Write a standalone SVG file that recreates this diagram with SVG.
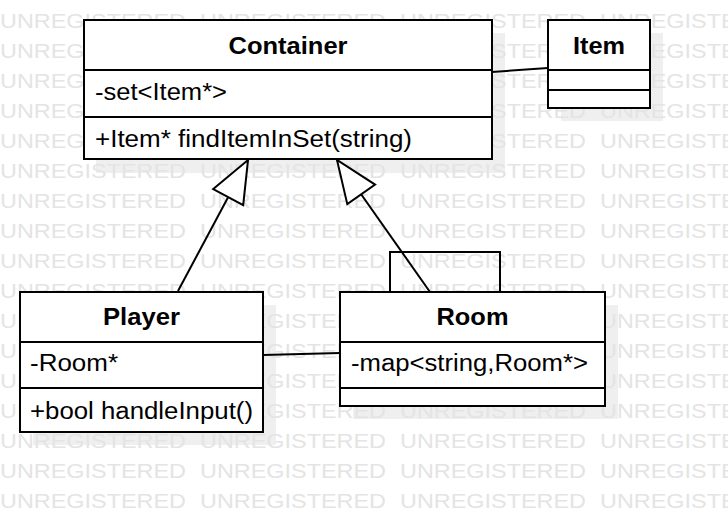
<svg xmlns="http://www.w3.org/2000/svg" width="728" height="512" viewBox="0 0 728 512">
  <style>
    .shadow { fill: #efefef; stroke: none; }
    .wm { font-family: "Liberation Sans", Arial, sans-serif; font-size: 21px; fill: #e4e4e4; }
    .box { fill: #ffffff; stroke: #000000; stroke-width: 2; }
    .div { stroke: #000000; stroke-width: 2; fill: none; }
    .title { font-family: "Liberation Sans", Arial, sans-serif; font-size: 23px; font-weight: bold; fill: #000000; text-anchor: middle; }
    .member { font-family: "Liberation Sans", Arial, sans-serif; font-size: 23px; fill: #000000; }
    .link { stroke: #000000; stroke-width: 2; fill: none; }
  </style>
  <defs>
    <marker id="generalization" markerUnits="userSpaceOnUse" viewBox="-2 -2 46 38" markerWidth="46" markerHeight="38" refX="42" refY="17" orient="auto">
      <path d="M0,0 L42,17 L0,34 Z" fill="#ffffff" stroke="#000000" stroke-width="2" stroke-linejoin="miter"/>
    </marker>
  </defs>

  <rect width="728" height="512" fill="#ffffff"/>

  <!-- drop shadows -->
  <g id="shadows">
    <rect class="shadow" x="96" y="33" width="409" height="140"/>
    <rect class="shadow" x="561" y="33" width="102" height="88"/>
    <rect class="shadow" x="33" y="305" width="243" height="140"/>
    <rect class="shadow" x="353" y="305" width="265" height="114"/>
  </g>

  <!-- evaluation watermark -->
  <g id="watermark">
    <text class="wm" x="0" y="27.5" textLength="186" lengthAdjust="spacingAndGlyphs">UNREGISTERED</text>
    <text class="wm" x="200" y="27.5" textLength="186" lengthAdjust="spacingAndGlyphs">UNREGISTERED</text>
    <text class="wm" x="400" y="27.5" textLength="186" lengthAdjust="spacingAndGlyphs">UNREGISTERED</text>
    <text class="wm" x="600" y="27.5" textLength="186" lengthAdjust="spacingAndGlyphs">UNREGISTERED</text>
    <text class="wm" x="0" y="57.5" textLength="186" lengthAdjust="spacingAndGlyphs">UNREGISTERED</text>
    <text class="wm" x="200" y="57.5" textLength="186" lengthAdjust="spacingAndGlyphs">UNREGISTERED</text>
    <text class="wm" x="400" y="57.5" textLength="186" lengthAdjust="spacingAndGlyphs">UNREGISTERED</text>
    <text class="wm" x="600" y="57.5" textLength="186" lengthAdjust="spacingAndGlyphs">UNREGISTERED</text>
    <text class="wm" x="0" y="87.5" textLength="186" lengthAdjust="spacingAndGlyphs">UNREGISTERED</text>
    <text class="wm" x="200" y="87.5" textLength="186" lengthAdjust="spacingAndGlyphs">UNREGISTERED</text>
    <text class="wm" x="400" y="87.5" textLength="186" lengthAdjust="spacingAndGlyphs">UNREGISTERED</text>
    <text class="wm" x="600" y="87.5" textLength="186" lengthAdjust="spacingAndGlyphs">UNREGISTERED</text>
    <text class="wm" x="0" y="117.5" textLength="186" lengthAdjust="spacingAndGlyphs">UNREGISTERED</text>
    <text class="wm" x="200" y="117.5" textLength="186" lengthAdjust="spacingAndGlyphs">UNREGISTERED</text>
    <text class="wm" x="400" y="117.5" textLength="186" lengthAdjust="spacingAndGlyphs">UNREGISTERED</text>
    <text class="wm" x="600" y="117.5" textLength="186" lengthAdjust="spacingAndGlyphs">UNREGISTERED</text>
    <text class="wm" x="0" y="147.5" textLength="186" lengthAdjust="spacingAndGlyphs">UNREGISTERED</text>
    <text class="wm" x="200" y="147.5" textLength="186" lengthAdjust="spacingAndGlyphs">UNREGISTERED</text>
    <text class="wm" x="400" y="147.5" textLength="186" lengthAdjust="spacingAndGlyphs">UNREGISTERED</text>
    <text class="wm" x="600" y="147.5" textLength="186" lengthAdjust="spacingAndGlyphs">UNREGISTERED</text>
    <text class="wm" x="0" y="177.5" textLength="186" lengthAdjust="spacingAndGlyphs">UNREGISTERED</text>
    <text class="wm" x="200" y="177.5" textLength="186" lengthAdjust="spacingAndGlyphs">UNREGISTERED</text>
    <text class="wm" x="400" y="177.5" textLength="186" lengthAdjust="spacingAndGlyphs">UNREGISTERED</text>
    <text class="wm" x="600" y="177.5" textLength="186" lengthAdjust="spacingAndGlyphs">UNREGISTERED</text>
    <text class="wm" x="0" y="207.5" textLength="186" lengthAdjust="spacingAndGlyphs">UNREGISTERED</text>
    <text class="wm" x="200" y="207.5" textLength="186" lengthAdjust="spacingAndGlyphs">UNREGISTERED</text>
    <text class="wm" x="400" y="207.5" textLength="186" lengthAdjust="spacingAndGlyphs">UNREGISTERED</text>
    <text class="wm" x="600" y="207.5" textLength="186" lengthAdjust="spacingAndGlyphs">UNREGISTERED</text>
    <text class="wm" x="0" y="237.5" textLength="186" lengthAdjust="spacingAndGlyphs">UNREGISTERED</text>
    <text class="wm" x="200" y="237.5" textLength="186" lengthAdjust="spacingAndGlyphs">UNREGISTERED</text>
    <text class="wm" x="400" y="237.5" textLength="186" lengthAdjust="spacingAndGlyphs">UNREGISTERED</text>
    <text class="wm" x="600" y="237.5" textLength="186" lengthAdjust="spacingAndGlyphs">UNREGISTERED</text>
    <text class="wm" x="0" y="267.5" textLength="186" lengthAdjust="spacingAndGlyphs">UNREGISTERED</text>
    <text class="wm" x="200" y="267.5" textLength="186" lengthAdjust="spacingAndGlyphs">UNREGISTERED</text>
    <text class="wm" x="400" y="267.5" textLength="186" lengthAdjust="spacingAndGlyphs">UNREGISTERED</text>
    <text class="wm" x="600" y="267.5" textLength="186" lengthAdjust="spacingAndGlyphs">UNREGISTERED</text>
    <text class="wm" x="0" y="297.5" textLength="186" lengthAdjust="spacingAndGlyphs">UNREGISTERED</text>
    <text class="wm" x="200" y="297.5" textLength="186" lengthAdjust="spacingAndGlyphs">UNREGISTERED</text>
    <text class="wm" x="400" y="297.5" textLength="186" lengthAdjust="spacingAndGlyphs">UNREGISTERED</text>
    <text class="wm" x="600" y="297.5" textLength="186" lengthAdjust="spacingAndGlyphs">UNREGISTERED</text>
    <text class="wm" x="0" y="327.5" textLength="186" lengthAdjust="spacingAndGlyphs">UNREGISTERED</text>
    <text class="wm" x="200" y="327.5" textLength="186" lengthAdjust="spacingAndGlyphs">UNREGISTERED</text>
    <text class="wm" x="400" y="327.5" textLength="186" lengthAdjust="spacingAndGlyphs">UNREGISTERED</text>
    <text class="wm" x="600" y="327.5" textLength="186" lengthAdjust="spacingAndGlyphs">UNREGISTERED</text>
    <text class="wm" x="0" y="357.5" textLength="186" lengthAdjust="spacingAndGlyphs">UNREGISTERED</text>
    <text class="wm" x="200" y="357.5" textLength="186" lengthAdjust="spacingAndGlyphs">UNREGISTERED</text>
    <text class="wm" x="400" y="357.5" textLength="186" lengthAdjust="spacingAndGlyphs">UNREGISTERED</text>
    <text class="wm" x="600" y="357.5" textLength="186" lengthAdjust="spacingAndGlyphs">UNREGISTERED</text>
    <text class="wm" x="0" y="387.5" textLength="186" lengthAdjust="spacingAndGlyphs">UNREGISTERED</text>
    <text class="wm" x="200" y="387.5" textLength="186" lengthAdjust="spacingAndGlyphs">UNREGISTERED</text>
    <text class="wm" x="400" y="387.5" textLength="186" lengthAdjust="spacingAndGlyphs">UNREGISTERED</text>
    <text class="wm" x="600" y="387.5" textLength="186" lengthAdjust="spacingAndGlyphs">UNREGISTERED</text>
    <text class="wm" x="0" y="417.5" textLength="186" lengthAdjust="spacingAndGlyphs">UNREGISTERED</text>
    <text class="wm" x="200" y="417.5" textLength="186" lengthAdjust="spacingAndGlyphs">UNREGISTERED</text>
    <text class="wm" x="400" y="417.5" textLength="186" lengthAdjust="spacingAndGlyphs">UNREGISTERED</text>
    <text class="wm" x="600" y="417.5" textLength="186" lengthAdjust="spacingAndGlyphs">UNREGISTERED</text>
    <text class="wm" x="0" y="447.5" textLength="186" lengthAdjust="spacingAndGlyphs">UNREGISTERED</text>
    <text class="wm" x="200" y="447.5" textLength="186" lengthAdjust="spacingAndGlyphs">UNREGISTERED</text>
    <text class="wm" x="400" y="447.5" textLength="186" lengthAdjust="spacingAndGlyphs">UNREGISTERED</text>
    <text class="wm" x="600" y="447.5" textLength="186" lengthAdjust="spacingAndGlyphs">UNREGISTERED</text>
    <text class="wm" x="0" y="477.5" textLength="186" lengthAdjust="spacingAndGlyphs">UNREGISTERED</text>
    <text class="wm" x="200" y="477.5" textLength="186" lengthAdjust="spacingAndGlyphs">UNREGISTERED</text>
    <text class="wm" x="400" y="477.5" textLength="186" lengthAdjust="spacingAndGlyphs">UNREGISTERED</text>
    <text class="wm" x="600" y="477.5" textLength="186" lengthAdjust="spacingAndGlyphs">UNREGISTERED</text>
    <text class="wm" x="0" y="507.5" textLength="186" lengthAdjust="spacingAndGlyphs">UNREGISTERED</text>
    <text class="wm" x="200" y="507.5" textLength="186" lengthAdjust="spacingAndGlyphs">UNREGISTERED</text>
    <text class="wm" x="400" y="507.5" textLength="186" lengthAdjust="spacingAndGlyphs">UNREGISTERED</text>
    <text class="wm" x="600" y="507.5" textLength="186" lengthAdjust="spacingAndGlyphs">UNREGISTERED</text>
  </g>

  <!-- associations and generalizations -->
  <g id="connectors">
    <line class="link" x1="492" y1="72" x2="548" y2="68"/>
    <line class="link" x1="263" y1="355" x2="340" y2="353"/>
    <polyline class="link" points="390,292 390,252 500,252 500,292"/>
    <line class="link" x1="178" y1="291" x2="248" y2="160" marker-end="url(#generalization)"/>
    <line class="link" x1="430" y1="292" x2="337" y2="160" marker-end="url(#generalization)"/>
  </g>

  <g id="Container">
    <rect class="box" x="84" y="20" width="408" height="139"/>
    <line class="div" x1="84" y1="70" x2="492" y2="70"/>
    <line class="div" x1="84" y1="117" x2="492" y2="117"/>
    <text class="title" x="288" y="54" textLength="119" lengthAdjust="spacingAndGlyphs">Container</text>
    <text class="member" x="95" y="100" textLength="132" lengthAdjust="spacingAndGlyphs">-set&lt;Item*&gt;</text>
    <text class="member" x="95" y="147" textLength="317" lengthAdjust="spacingAndGlyphs">+Item* findItemInSet(string)</text>
  </g>

  <g id="Item">
    <rect class="box" x="548" y="20" width="102" height="88"/>
    <line class="div" x1="548" y1="70" x2="650" y2="70"/>
    <line class="div" x1="548" y1="90" x2="650" y2="90"/>
    <text class="title" x="599" y="54" textLength="52" lengthAdjust="spacingAndGlyphs">Item</text>
  </g>

  <g id="Player">
    <rect class="box" x="20" y="292" width="243" height="140"/>
    <line class="div" x1="20" y1="342" x2="263" y2="342"/>
    <line class="div" x1="20" y1="388" x2="263" y2="388"/>
    <text class="title" x="141.5" y="325" textLength="77" lengthAdjust="spacingAndGlyphs">Player</text>
    <text class="member" x="30" y="371" textLength="88" lengthAdjust="spacingAndGlyphs">-Room*</text>
    <text class="member" x="30" y="419" textLength="223" lengthAdjust="spacingAndGlyphs">+bool handleInput()</text>
  </g>

  <g id="Room">
    <rect class="box" x="340" y="292" width="265" height="114"/>
    <line class="div" x1="340" y1="342" x2="605" y2="342"/>
    <line class="div" x1="340" y1="388" x2="605" y2="388"/>
    <text class="title" x="472.5" y="325" textLength="72" lengthAdjust="spacingAndGlyphs">Room</text>
    <text class="member" x="351" y="371" textLength="237" lengthAdjust="spacingAndGlyphs">-map&lt;string,Room*&gt;</text>
  </g>
</svg>
